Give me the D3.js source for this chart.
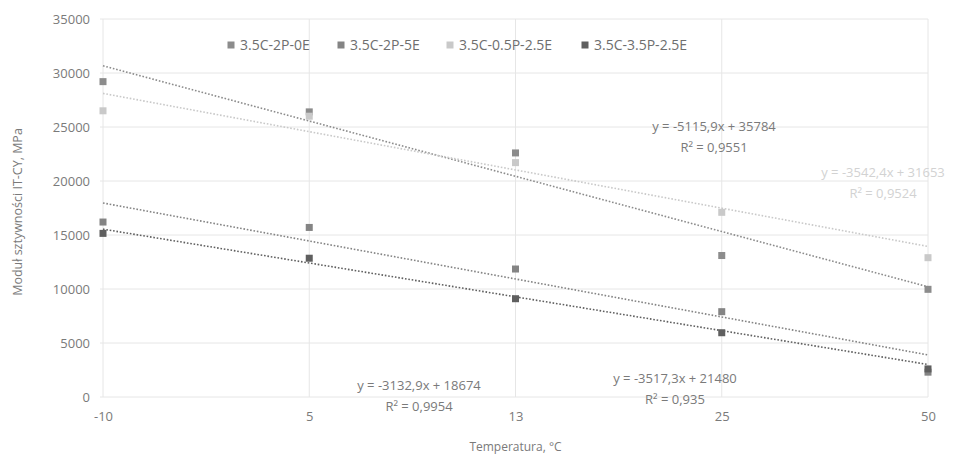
<!DOCTYPE html>
<html>
<head>
<meta charset="utf-8">
<script src="https://cdn.jsdelivr.net/npm/d3@7"></script>
<style>
  body { margin: 0; background: #fff; }
  text { font-family: "Open Sans", sans-serif; }
</style>
</head>
<body>
<div class="wrapper"></div>
<script>
    // temperatures (categories on x)
    var temps = ["-10", "5", "13", "25", "50"];

    var seriesNames = ["3.5C-2P-0E", "3.5C-2P-5E", "3.5C-0.5P-2.5E", "3.5C-3.5P-2.5E"];
    var seriesColors = ["#8c8c8c", "#848484", "#c9c9c9", "#5f5f5f"];

    // values, MPa
    var s2P0E   = [29200, 26400, 22600, 13100, 9970];
    var s2P5E   = [16200, 15700, 11850, 7900, 2300];
    var s05P25E = [26500, 26000, 21700, 17100, 12900];
    var s35P25E = [15150, 12850, 9100, 5950, 2600];
    var values = [s2P0E, s2P5E, s05P25E, s35P25E];

    // trendline equations as printed on the chart (x = 1..5)
    var slopes     = [-5115.9, -3517.3, -3542.4, -3132.9];
    var intercepts = [35784, 21480, 31653, 18674];
    var r2         = ["0,9551", "0,935", "0,9524", "0,9954"];
    var eqText     = ["y = -5115,9x + 35784", "y = -3517,3x + 21480", "y = -3542,4x + 31653", "y = -3132,9x + 18674"];
    var labelPos   = [[714, 126], [675, 378], [883, 172], [419, 385]];
    var labelColors = ["#7a7a7a", "#7a7a7a", "#d2d2d2", "#7a7a7a"];

    var yTicks = d3.range(0, 35001, 5000);

    var w = 954, h = 463;
    var margin = {top: 19, right: 26, bottom: 66, left: 103};

    var svg = d3.select(".wrapper").append("svg")
        .attr("width", w)
        .attr("height", h);

    var x = d3.scalePoint()
        .domain(temps)
        .range([margin.left, w - margin.right]);

    // numeric x for the trend lines (Excel uses 1..n on a category axis)
    var xi = d3.scaleLinear()
        .domain([1, temps.length])
        .range([margin.left, w - margin.right]);

    var y = d3.scaleLinear()
        .domain([0, 35000])
        .range([h - margin.bottom, margin.top]);

    // gridlines
    svg.append("g")
        .selectAll("line.h")
        .data(yTicks)
      .enter().append("line")
        .attr("x1", margin.left - 3)
        .attr("x2", w - margin.right)
        .attr("y1", function(d) { return y(d); })
        .attr("y2", function(d) { return y(d); })
        .attr("stroke", "#e6e6e6")
        .attr("stroke-width", 1);

    svg.append("g")
        .selectAll("line.v")
        .data(temps)
      .enter().append("line")
        .attr("x1", function(d) { return x(d); })
        .attr("x2", function(d) { return x(d); })
        .attr("y1", margin.top)
        .attr("y2", h - margin.bottom)
        .attr("stroke", "#e6e6e6")
        .attr("stroke-width", 1);

    // axes
    var yAxis = svg.append("g")
        .attr("transform", "translate(" + (margin.left - 10) + ",0)")
        .call(d3.axisLeft(y).tickValues(yTicks).tickSize(0).tickFormat(d3.format("d")));
    yAxis.select(".domain").remove();
    yAxis.selectAll("text")
        .attr("fill", "#7a7a7a")
        .style("font-size", "13px");

    var xAxis = svg.append("g")
        .attr("transform", "translate(0," + (h - margin.bottom + 12) + ")")
        .call(d3.axisBottom(x).tickSize(0));
    xAxis.select(".domain").remove();
    xAxis.selectAll("text")
        .attr("fill", "#7a7a7a")
        .style("font-size", "13px");

    // axis titles
    svg.append("text")
        .attr("x", (margin.left + w - margin.right) / 2)
        .attr("y", 451)
        .attr("text-anchor", "middle")
        .attr("fill", "#7a7a7a")
        .style("font-size", "12px")
        .text("Temperatura, °C");

    svg.append("text")
        .attr("transform", "translate(22," + ((margin.top + h - margin.bottom) / 2 + 4) + ") rotate(-90)")
        .attr("text-anchor", "middle")
        .attr("fill", "#7a7a7a")
        .style("font-size", "12.5px")
        .text("Moduł sztywności IT-CY, MPa");

    // trend lines
    svg.append("g")
        .selectAll("line.trend")
        .data(d3.range(seriesNames.length))
      .enter().append("line")
        .attr("x1", xi(1))
        .attr("x2", xi(temps.length))
        .attr("y1", function(i) { return y(slopes[i] * 1 + intercepts[i]); })
        .attr("y2", function(i) { return y(slopes[i] * temps.length + intercepts[i]); })
        .attr("stroke", function(i) { return seriesColors[i]; })
        .attr("stroke-width", 1.6)
        .attr("stroke-dasharray", "1.6,1.8");

    // markers
    values.forEach(function(vals, i) {
      svg.append("g")
          .selectAll("rect")
          .data(vals)
        .enter().append("rect")
          .attr("x", function(d, j) { return x(temps[j]) - 3.5; })
          .attr("y", function(d) { return y(d) - 3.5; })
          .attr("width", 7)
          .attr("height", 7)
          .attr("fill", seriesColors[i]);
    });

    // equations
    var eq = svg.append("g")
        .selectAll("g")
        .data(d3.range(seriesNames.length))
      .enter().append("g")
        .attr("transform", function(i) { return "translate(" + labelPos[i][0] + "," + labelPos[i][1] + ")"; });
    eq.append("text")
        .attr("text-anchor", "middle")
        .attr("dy", "0.35em")
        .attr("fill", function(i) { return labelColors[i]; })
        .style("font-size", "13px")
        .text(function(i) { return eqText[i]; });
    eq.append("text")
        .attr("text-anchor", "middle")
        .attr("y", 21)
        .attr("dy", "0.35em")
        .attr("fill", function(i) { return labelColors[i]; })
        .style("font-size", "13px")
        .text(function(i) { return "R² = " + r2[i]; });

    // legend
    var legendX = [231, 341, 450, 585];
    var legend = svg.append("g")
        .selectAll("g")
        .data(seriesNames)
      .enter().append("g")
        .attr("transform", function(d, i) { return "translate(" + legendX[i] + ",45)"; });
    legend.append("rect")
        .attr("x", -3.5)
        .attr("y", -3.5)
        .attr("width", 7)
        .attr("height", 7)
        .attr("fill", function(d, i) { return seriesColors[i]; });
    legend.append("text")
        .attr("x", 9)
        .attr("dy", "0.35em")
        .attr("fill", "#6e6e6e")
        .style("font-size", "14px")
        .text(function(d) { return d; });
</script>
</body>
</html>
